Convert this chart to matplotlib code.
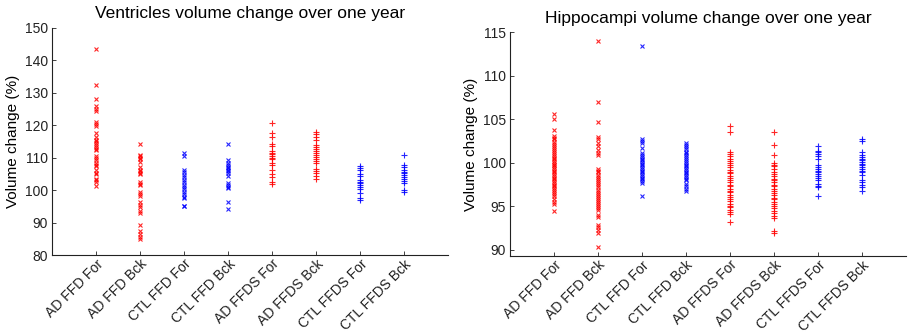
import matplotlib
matplotlib.use("Agg")
import matplotlib.pyplot as plt
import numpy as np

plt.rcParams["font.family"] = ["Liberation Sans", "DejaVu Sans"]

labels = ["AD FFD For", "AD FFD Bck", "CTL FFD For", "CTL FFD Bck",
          "AD FFDS For", "AD FFDS Bck", "CTL FFDS For", "CTL FFDS Bck"]
colors = ["r", "r", "b", "b", "r", "r", "b", "b"]
markers = ["x", "x", "x", "x", "+", "+", "+", "+"]

# ventricles, % volume change
ven_ad_ffd_for = [143.6, 132.4, 128.1, 125.8, 125.0, 124.3, 121.0, 120.4, 119.7, 117.7,
                  116.3, 115.6, 115.0, 114.4, 114.0, 113.4, 112.8, 112.5, 110.4, 109.8,
                  109.4, 108.5, 107.8, 107.3, 106.2, 105.4, 105.0, 103.5, 103.0, 102.5, 101.2]
ven_ad_ffd_bck = [114.2, 110.9, 110.4, 110.0, 109.5, 108.8, 107.0, 106.2, 105.8, 105.4,
                  105.0, 102.6, 102.0, 101.5, 99.3, 98.7, 98.3, 96.2, 95.5, 94.8,
                  93.5, 93.0, 89.2, 87.3, 86.5, 85.7, 85.0]
ven_ctl_ffd_for = [111.3, 110.6, 106.2, 105.6, 104.8, 104.0, 103.2, 102.4, 101.7, 101.0,
                   100.2, 99.5, 98.7, 98.0, 97.5, 95.2, 95.0]
ven_ctl_ffd_bck = [114.2, 109.2, 108.4, 107.8, 107.2, 106.8, 106.3, 105.8, 105.3, 104.5,
                   102.2, 101.7, 101.0, 100.6, 96.3, 94.2]
ven_ad_ffds_for = [120.8, 117.5, 116.5, 114.3, 113.7, 112.0, 111.4, 111.0, 110.6, 110.0,
                   109.5, 108.5, 107.8, 106.1, 105.0, 104.1, 102.6, 102.0]
ven_ad_ffds_bck = [117.8, 117.2, 116.3, 115.5, 113.9, 113.4, 112.8, 112.1, 111.5, 110.8,
                   110.2, 109.6, 109.0, 108.5, 106.5, 106.0, 105.4, 104.2, 103.3]
ven_ctl_ffds_for = [107.5, 106.9, 106.2, 105.0, 104.5, 103.2, 102.6, 102.1, 101.6, 101.0,
                    100.3, 99.0, 97.5, 97.0]
ven_ctl_ffds_bck = [110.7, 107.6, 107.0, 106.3, 105.6, 105.2, 104.8, 104.1, 103.4, 102.8,
                    102.2, 100.1, 99.3]

# hippocampi, % volume change
hip_ad_ffd_for = [105.6, 105.0, 103.8, 103.1, 102.9, 102.7, 102.4, 102.2, 101.9, 101.7,
                  101.5, 101.2, 101.0, 100.8, 100.6, 100.4, 100.2, 100.0, 99.8, 99.7,
                  99.5, 99.3, 99.1, 98.9, 98.7, 98.5, 98.3, 98.1, 97.9, 97.7,
                  97.5, 97.3, 97.1, 96.9, 96.6, 96.4, 96.2, 95.8, 95.5, 95.3, 94.5]
hip_ad_ffd_bck = [114.0, 107.0, 104.7, 103.0, 102.7, 102.3, 101.9, 101.5, 101.1, 100.9,
                  99.3, 99.1, 98.9, 98.6, 98.4, 98.1, 97.9, 97.7, 97.5, 97.2,
                  96.9, 96.7, 96.4, 96.2, 96.0, 95.7, 95.5, 95.3, 95.0, 94.8,
                  94.6, 94.0, 93.8, 92.9, 92.6, 92.3, 91.9, 90.3]
hip_ctl_ffd_for = [113.4, 102.8, 102.5, 102.3, 101.7, 101.1, 100.9, 100.7, 100.5, 100.3,
                   100.1, 99.9, 99.7, 99.5, 99.3, 99.1, 98.9, 98.7, 98.5, 98.3,
                   98.1, 97.9, 97.7, 96.2]
hip_ctl_ffd_bck = [102.3, 102.1, 101.8, 101.6, 101.3, 101.1, 100.9, 100.7, 100.4, 100.2,
                   100.0, 99.8, 99.6, 99.4, 99.2, 99.0, 98.8, 98.6, 98.4, 98.2,
                   98.0, 97.6, 97.3, 97.0, 96.8]
hip_ad_ffds_for = [104.2, 103.5, 101.3, 101.0, 100.8, 100.5, 100.2, 100.0, 99.7, 99.5,
                   99.2, 99.0, 98.8, 98.5, 98.3, 98.0, 97.8, 97.5, 97.3, 97.0,
                   96.8, 96.6, 96.3, 96.1, 95.8, 95.6, 95.3, 95.1, 94.9, 94.6,
                   94.4, 94.1, 93.2]
hip_ad_ffds_bck = [103.6, 102.1, 100.9, 100.0, 99.8, 99.6, 99.3, 99.0, 98.7, 98.5,
                   98.2, 98.0, 97.8, 97.5, 97.3, 97.0, 96.8, 96.5, 96.3, 96.0,
                   95.8, 95.5, 95.3, 95.0, 94.8, 94.5, 94.2, 93.9, 93.7, 92.2, 91.9]
hip_ctl_ffds_for = [101.9, 101.4, 101.2, 101.0, 100.8, 100.5, 99.7, 99.5, 99.3, 99.1,
                    98.9, 98.7, 98.5, 98.3, 98.0, 97.6, 97.4, 97.2, 96.2]
hip_ctl_ffds_bck = [102.8, 102.5, 101.3, 100.9, 100.7, 100.5, 100.3, 100.1, 99.9, 99.7,
                    99.5, 99.3, 99.1, 98.9, 98.6, 98.0, 97.8, 97.5, 97.2, 96.8]

ventricles = [ven_ad_ffd_for, ven_ad_ffd_bck, ven_ctl_ffd_for, ven_ctl_ffd_bck,
              ven_ad_ffds_for, ven_ad_ffds_bck, ven_ctl_ffds_for, ven_ctl_ffds_bck]
hippocampi = [hip_ad_ffd_for, hip_ad_ffd_bck, hip_ctl_ffd_for, hip_ctl_ffd_bck,
              hip_ad_ffds_for, hip_ad_ffds_bck, hip_ctl_ffds_for, hip_ctl_ffds_bck]

fig = plt.figure(figsize=(9.09, 3.34), dpi=100)
ax1 = fig.add_axes([0.0572, 0.2365, 0.4356, 0.680])
ax2 = fig.add_axes([0.561, 0.2335, 0.4356, 0.6697])


def draw(ax, groups, title, ylim, yticks):
    for i, vals in enumerate(groups):
        ms = 3.5 if markers[i] == "x" else 5
        ax.plot(np.full(len(vals), i + 1), vals, markers[i], color=colors[i],
                ms=ms, mew=0.8, alpha=0.85)
    ax.set_xlim(0, 9)
    ax.set_ylim(*ylim)
    ax.set_yticks(yticks)
    ax.set_xticks(range(1, 9))
    ax.set_xticklabels(labels, rotation=45, ha="right", va="top",
                       rotation_mode="anchor", fontsize=9)
    ax.tick_params(direction="in", length=3, width=0.6, labelsize=10, pad=3,
                   colors="#222222")
    ax.tick_params(axis="x", pad=1.5)
    for s in ("top", "right"):
        ax.spines[s].set_visible(False)
    for s in ("left", "bottom"):
        ax.spines[s].set_linewidth(0.8)
        ax.spines[s].set_color("#222222")
    ax.set_ylabel("Volume change (%)", fontsize=11, labelpad=3)
    ax.set_title(title, fontsize=12.5, pad=7)


draw(ax1, ventricles, "Ventricles volume change over one year", (80, 150),
     range(80, 151, 10))
draw(ax2, hippocampi, "Hippocampi volume change over one year", (89.3, 115),
     range(90, 116, 5))

fig.savefig("out.png", dpi=100)
